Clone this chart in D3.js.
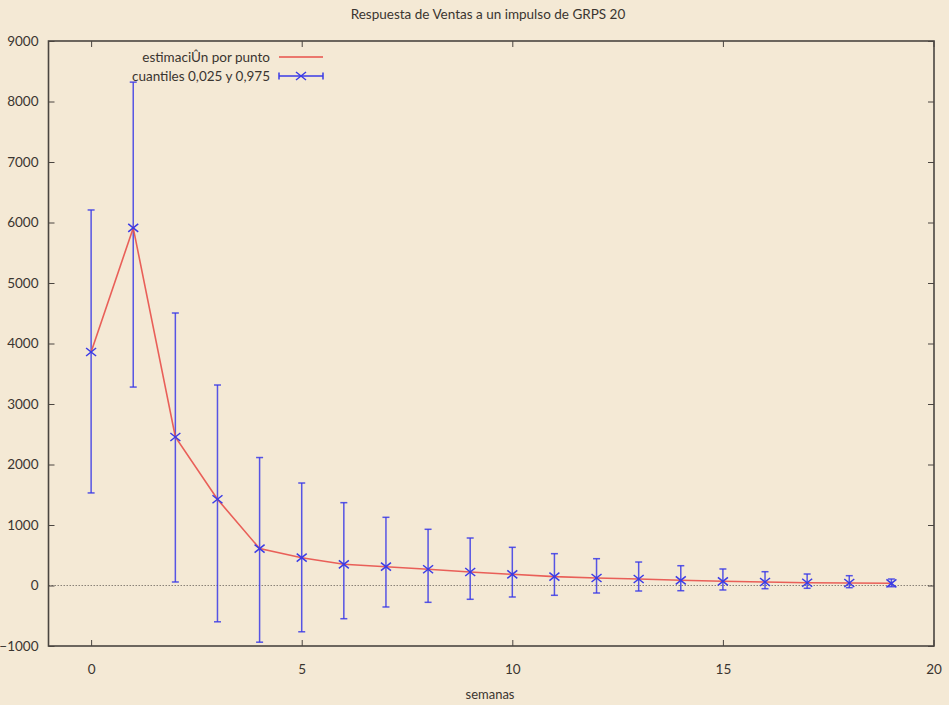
<!DOCTYPE html>
<html>
<head>
<meta charset="utf-8">
<script src="https://cdn.jsdelivr.net/npm/d3@7"></script>
<style>
  html, body { margin: 0; padding: 0; background: #f4e9d5; }
  svg { display: block; font-family: Lato, "Open Sans", sans-serif; }
</style>
</head>
<body>
<svg id="chart" width="949" height="705"></svg>
<script>
// Weekly response of sales to a GRPS impulse
const semanas = [0, 1, 2, 3, 4, 5, 6, 7, 8, 9, 10, 11, 12, 13, 14, 15, 16, 17, 18, 19];
const estimacion = [3860, 5910, 2455, 1425, 610, 460, 350, 311, 268, 223, 185, 146, 124, 107, 86, 69, 58, 46, 41, 36];
const cuantilInf = [1530, 3280, 58, -600, -937, -765, -549, -355, -278, -228, -190, -162, -124, -91, -86, -74, -53, -46, -36, -20];
const cuantilSup = [6207, 8320, 4504, 3314, 2115, 1694, 1369, 1127, 929, 785, 631, 526, 443, 388, 327, 273, 228, 190, 162, 107];

const xTicks = [0, 5, 10, 15, 20];
const yTicks = [-1000, 0, 1000, 2000, 3000, 4000, 5000, 6000, 7000, 8000, 9000];

const titulo = "Respuesta de Ventas a un impulso de GRPS 20";
const etiquetaX = "semanas";
const leyenda = ["estimaciÛn por punto", "cuantiles 0,025 y 0,975"];

const colorLinea = "#e8504a";
const colorBarras = "#3a3ae6";
const colorEje = "#4a4540";
const colorTexto = "#3a3530";

const svg = d3.select("#chart");
const m = { left: 48.5, right: 934, top: 41, bottom: 646 };

const x = d3.scaleLinear().domain([-1, 20]).range([m.left + 0.5, 933.5]);
const y = d3.scaleLinear().domain([-1000, 9000]).range([m.bottom, m.top]);

// Title
svg.append("text")
  .attr("x", 488).attr("y", 19)
  .attr("text-anchor", "middle")
  .attr("font-size", 13.5)
  .attr("fill", colorTexto)
  .text(titulo);

// Zero reference line
svg.append("line")
  .attr("x1", m.left).attr("x2", m.right)
  .attr("y1", y(0)).attr("y2", y(0))
  .attr("stroke", "#8a8278")
  .attr("stroke-width", 1)
  .attr("stroke-dasharray", "1.5,1.5");

// Axes with inward ticks, mirrored on the opposite sides
const gAxes = svg.append("g");
const styleAxis = g => {
  g.select(".domain").remove();
  g.selectAll(".tick line").attr("stroke", colorEje).attr("stroke-width", 1);
  g.selectAll(".tick text").attr("fill", colorTexto).attr("font-size", 13.5)
    .attr("font-family", "Lato, 'Open Sans', sans-serif");
};

gAxes.append("g")
  .attr("transform", `translate(${m.left},0)`)
  .call(d3.axisLeft(y).tickValues(yTicks).tickFormat(d3.format("d")).tickSizeInner(-6).tickPadding(10))
  .call(styleAxis);

gAxes.append("g")
  .attr("transform", `translate(${m.right},0)`)
  .call(d3.axisRight(y).tickValues(yTicks).tickSizeInner(-6).tickFormat(""))
  .call(styleAxis);

gAxes.append("g")
  .attr("transform", `translate(0,${m.bottom})`)
  .call(d3.axisBottom(x).tickValues(xTicks).tickFormat(d3.format("d")).tickSizeInner(-6).tickPadding(18))
  .call(styleAxis);

gAxes.append("g")
  .attr("transform", `translate(0,${m.top})`)
  .call(d3.axisTop(x).tickValues(xTicks).tickSizeInner(-6).tickFormat(""))
  .call(styleAxis);

// Plot border
svg.append("rect")
  .attr("x", m.left).attr("y", m.top)
  .attr("width", m.right - m.left).attr("height", m.bottom - m.top)
  .attr("fill", "none")
  .attr("stroke", colorEje)
  .attr("stroke-width", 1.6);

// X axis label
svg.append("text")
  .attr("x", 490).attr("y", 699)
  .attr("text-anchor", "middle")
  .attr("font-size", 13)
  .attr("fill", colorTexto)
  .text(etiquetaX);

const datos = semanas.map((s, i) => ({ s, est: estimacion[i], lo: cuantilInf[i], hi: cuantilSup[i] }));

// Quantile error bars
const gBar = svg.append("g")
  .attr("stroke", colorBarras)
  .attr("stroke-width", 1.5)
  .attr("stroke-opacity", 0.85)
  .attr("fill", "none");

const cap = 3.5;
const bars = gBar.selectAll("g.bar").data(datos).join("g").attr("class", "bar");
bars.append("line")
  .attr("x1", d => x(d.s)).attr("x2", d => x(d.s))
  .attr("y1", d => y(d.lo)).attr("y2", d => y(d.hi));
bars.append("line")
  .attr("x1", d => x(d.s) - cap).attr("x2", d => x(d.s) + cap)
  .attr("y1", d => y(d.hi)).attr("y2", d => y(d.hi));
bars.append("line")
  .attr("x1", d => x(d.s) - cap).attr("x2", d => x(d.s) + cap)
  .attr("y1", d => y(d.lo)).attr("y2", d => y(d.lo));

// Point estimate line
svg.append("path")
  .datum(datos)
  .attr("fill", "none")
  .attr("stroke", colorLinea)
  .attr("stroke-width", 1.6)
  .attr("stroke-opacity", 0.9)
  .attr("d", d3.line().x(d => x(d.s)).y(d => y(d.est)));

// Cross markers
const cr = 5;
const gMark = svg.append("g")
  .attr("stroke", colorBarras)
  .attr("stroke-width", 1.5);
const marks = gMark.selectAll("g").data(datos).join("g")
  .attr("transform", d => `translate(${x(d.s)},${y(d.est)})`);
marks.append("line").attr("x1", -cr).attr("y1", -cr * 0.8).attr("x2", cr).attr("y2", cr * 0.8);
marks.append("line").attr("x1", -cr).attr("y1", cr * 0.8).attr("x2", cr).attr("y2", -cr * 0.8);

// Legend
const lg = svg.append("g").attr("font-size", 13.5).attr("fill", colorTexto);
lg.append("text").attr("x", 270).attr("y", 62).attr("text-anchor", "end").text(leyenda[0]);
lg.append("text").attr("x", 270).attr("y", 81).attr("text-anchor", "end").text(leyenda[1]);
lg.append("line")
  .attr("x1", 279).attr("x2", 323).attr("y1", 57).attr("y2", 57)
  .attr("stroke", colorLinea).attr("stroke-width", 1.6);
const ly = 76;
const lb = lg.append("g").attr("stroke", colorBarras).attr("stroke-width", 1.5);
lb.append("line").attr("x1", 279).attr("x2", 323).attr("y1", ly).attr("y2", ly);
lb.append("line").attr("x1", 279).attr("x2", 279).attr("y1", ly - cap).attr("y2", ly + cap);
lb.append("line").attr("x1", 323).attr("x2", 323).attr("y1", ly - cap).attr("y2", ly + cap);
lb.append("line").attr("x1", 301 - cr).attr("y1", ly - cr * 0.8).attr("x2", 301 + cr).attr("y2", ly + cr * 0.8);
lb.append("line").attr("x1", 301 - cr).attr("y1", ly + cr * 0.8).attr("x2", 301 + cr).attr("y2", ly - cr * 0.8);
</script>
</body>
</html>
